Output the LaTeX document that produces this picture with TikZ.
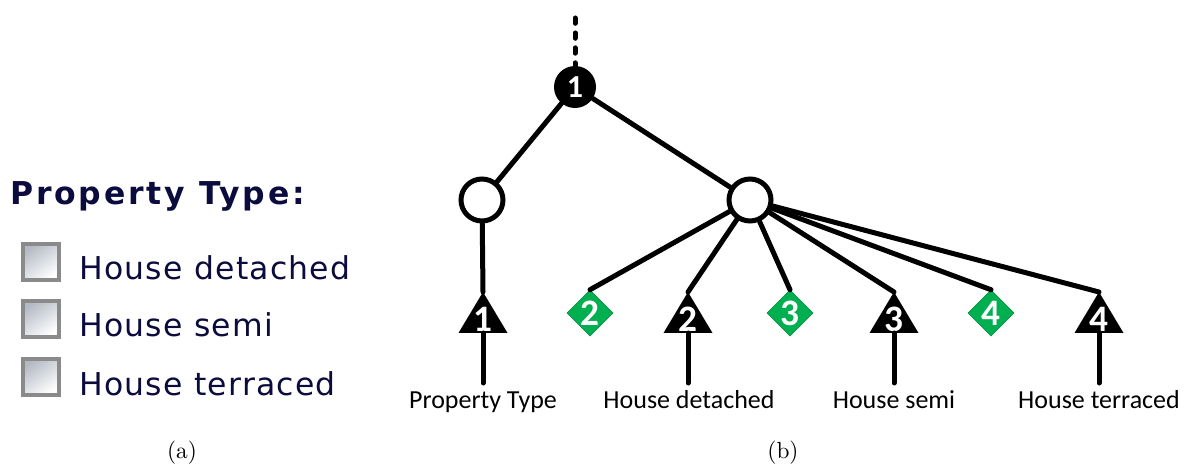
\documentclass[tikz,border=0pt]{standalone}
\usepackage{fontspec}
\usetikzlibrary{shapes.geometric}
\newfontfamily\labelfont{Carlito}
\newfontfamily\formfont[LetterSpace=4]{DejaVu Sans}
\newfontfamily\formboldfont[LetterSpace=9]{DejaVu Sans Bold}
\definecolor{formnavy}{HTML}{0B0B3D}
\definecolor{decgreen}{HTML}{00B050}
\definecolor{decgreendark}{HTML}{00873C}
\definecolor{boxgray}{HTML}{8A8A8A}
\definecolor{boxshade}{HTML}{B4BAC4}
\newcommand\captext[1]{\scalebox{1.75}{\normalsize #1}}

\tikzset{
  edge/.style={line width=3.75pt, line cap=round, line join=round},
  dotedge/.style={line width=3.75pt, line cap=round, dash pattern=on 4pt off 7.2pt},
  opencirc/.style={circle, draw, line width=3.75pt, fill=white, minimum size=31.5pt, inner sep=0pt},
  rootcirc/.style={circle, fill=black, minimum size=31.5pt, inner sep=0pt,
    text=white, font=\labelfont\bfseries\fontsize{24pt}{24pt}\selectfont},
  gdia/.style={diamond, fill=decgreen, draw=decgreendark, line width=0.4pt,
    minimum width=34.5pt, minimum height=34.5pt, inner sep=0pt, aspect=1,
    text=white, font=\labelfont\bfseries\fontsize{28pt}{28pt}\selectfont},
  trinum/.style={anchor=base, inner sep=0pt, text=white,
    font=\labelfont\bfseries\fontsize{28pt}{28pt}\selectfont},
  leaflabel/.style={anchor=base, inner sep=0pt, font=\labelfont\fontsize{19.5pt}{22pt}\selectfont},
  cbox/.style={draw=boxgray, line width=2.6pt, minimum size=27pt, inner sep=0pt,
    top color=boxshade, bottom color=white, shading angle=35},
  cboxtext/.style={anchor=base west, inner sep=0pt, text=formnavy,
    font=\formfont\fontsize{23.6pt}{28pt}\selectfont},
  formtitle/.style={anchor=base west, inner sep=0pt, text=formnavy,
    font=\formboldfont\fontsize{23.6pt}{28pt}\selectfont},
  caption/.style={inner sep=0pt},
  tri/.pic={
    \fill (0,0) -- (-24.5,41) -- (24.5,41) -- cycle;
    \coordinate (-apex) at (0,0);
    \coordinate (-base) at (0,41);
    \coordinate (-foot) at (0,91);
    \node[trinum] (-num) at (0,40) {#1};
  }
}

\begin{document}
\begin{tikzpicture}[x=0.75pt, y=-0.75pt]
  \path[use as bounding box] (0,0) rectangle (1189,470);

  % ---- (a) the web form ----
  \node[formtitle] (title) at (10,205) {Property Type:};
  \node[cbox] (cb1) at (41,262) {};
  \node[cbox] (cb2) at (41,319) {};
  \node[cbox] (cb3) at (41,377) {};
  \node[cboxtext] (ct1) at (79,280) {House detached};
  \node[cboxtext] (ct2) at (79,337) {House semi};
  \node[cboxtext] (ct3) at (79,395) {House terraced};
  \node[caption] (capa) at (182,453) {\captext{(a)}};

  % ---- (b) the tree ----
  \coordinate (top) at (575,18);
  \node[rootcirc] (root) at (575,87) {1};
  \node[opencirc] (lc) at (482,200) {};
  \node[opencirc] (rc) at (750,200) {};

  \pic (t1) at (483,292) {tri=1};
  \pic (t2) at (688,292) {tri=2};
  \pic (t3) at (894,292) {tri=3};
  \pic (t4) at (1099,292) {tri=4};

  \node[gdia] (d2) at (590,313) {2};
  \node[gdia] (d3) at (790,313) {3};
  \node[gdia] (d4) at (991,313) {4};

  \draw[dotedge] (top) -- (root);
  \draw[edge] (root) -- (lc);
  \draw[edge] (root) -- (rc);
  \draw[edge] (lc) -- (t1-apex);
  \draw[edge] (rc) -- (d2.north);
  \draw[edge] (rc) -- (t2-apex);
  \draw[edge] (rc) -- (d3.north);
  \draw[edge] (rc) -- (t3-apex);
  \draw[edge] (rc) -- (d4.north);
  \draw[edge] (rc) -- (t4-apex);

  \draw[edge] (t1-base) -- (t1-foot);
  \draw[edge] (t2-base) -- (t2-foot);
  \draw[edge] (t3-base) -- (t3-foot);
  \draw[edge] (t4-base) -- (t4-foot);

  \node[leaflabel] (l1) at (483,408) {Property Type};
  \node[leaflabel] (l2) at (689,408) {House detached};
  \node[leaflabel] (l3) at (894,408) {House semi};
  \node[leaflabel] (l4) at (1099,408) {House terraced};

  \node[caption] (capb) at (783,453) {\captext{(b)}};
\end{tikzpicture}
\end{document}
